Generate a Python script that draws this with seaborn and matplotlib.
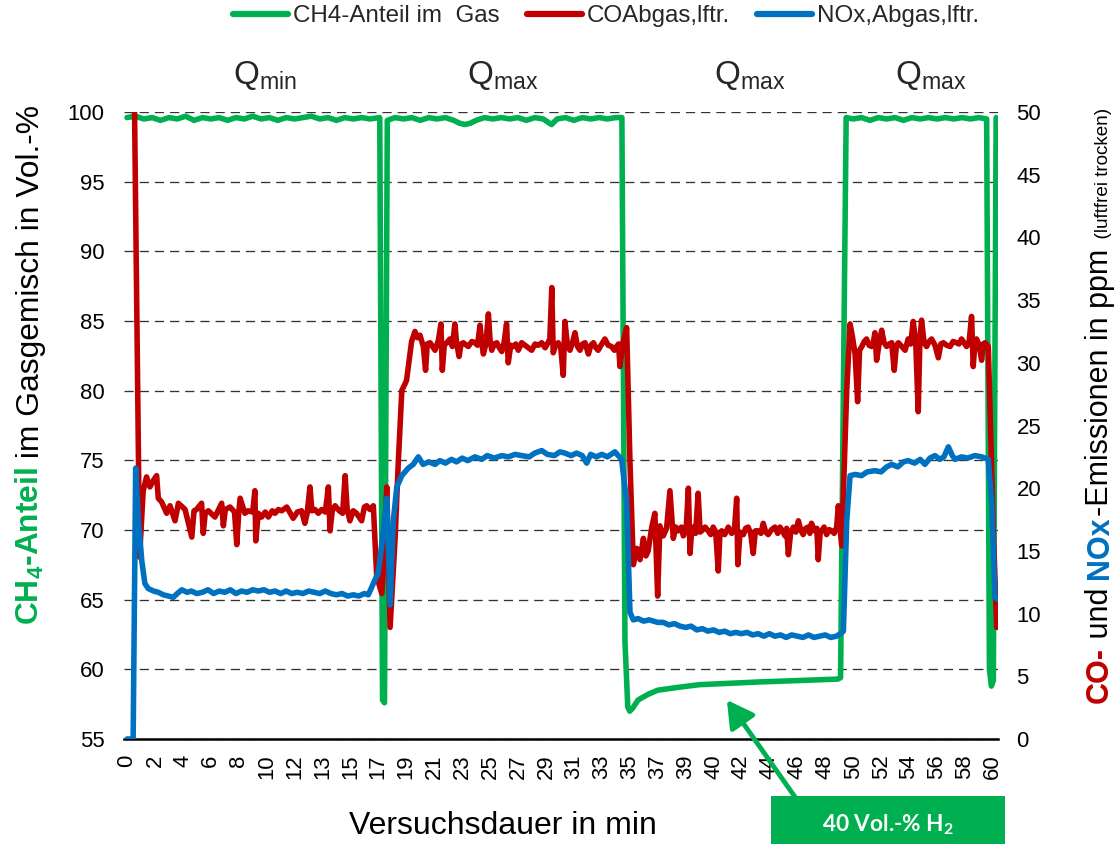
import matplotlib
matplotlib.use("Agg")
import matplotlib.pyplot as plt
import seaborn as sns
import pandas as pd
from matplotlib import font_manager
from matplotlib.lines import Line2D
from matplotlib.patches import Rectangle
from matplotlib.transforms import blended_transform_factory

# the time axis is a category axis in the original (uneven minute labels),
# so x values are positions on that axis (0 = "0", 31 = "60")
tick_labels = ["0", "2", "4", "6", "8", "10", "12", "13", "15", "17", "19", "21",
               "23", "25", "27", "29", "31", "33", "35", "37", "39", "40", "42", "44",
               "46", "48", "50", "52", "54", "56", "58", "60"]

ch4_x = [0.00, 0.30, 0.60, 0.90, 1.20, 1.50, 1.80, 2.10, 2.40, 2.70, 3.00, 3.30, 3.60,
         3.90, 4.20, 4.50, 4.80, 5.10, 5.40, 5.70, 6.00, 6.30, 6.60, 6.90, 7.20, 7.50,
         7.80, 8.10, 8.40, 8.70, 9.05, 9.15, 9.22, 9.32, 9.60, 9.90, 10.20, 10.50, 10.80,
         11.10, 11.40, 11.70, 11.90, 12.10, 12.30, 12.50, 12.80, 13.10, 13.40, 13.70,
         14.00, 14.30, 14.60, 14.90, 15.20, 15.40, 15.70, 16.00, 16.30, 16.60, 16.90,
         17.20, 17.50, 17.72, 17.83, 17.93, 18.00, 18.10, 18.30, 18.65, 19.00, 19.70,
         20.50, 21.60, 22.70, 24.10, 25.45, 25.55, 25.65, 25.75, 26.00, 26.30, 26.60,
         26.90, 27.20, 27.50, 27.80, 28.10, 28.40, 28.70, 29.00, 29.30, 29.60, 29.90,
         30.20, 30.50, 30.78, 30.88, 30.95, 31.02, 31.12]
ch4_pct = [99.6, 99.7, 99.5, 99.6, 99.4, 99.6, 99.5, 99.7, 99.4, 99.6, 99.5, 99.6, 99.4,
           99.6, 99.5, 99.7, 99.5, 99.6, 99.4, 99.6, 99.5, 99.6, 99.7, 99.5, 99.6, 99.4,
           99.6, 99.5, 99.6, 99.5, 99.6, 57.8, 57.6, 99.4, 99.6, 99.5, 99.6, 99.4, 99.6,
           99.5, 99.6, 99.4, 99.2, 99.1, 99.2, 99.4, 99.6, 99.5, 99.6, 99.5,
           99.6, 99.4, 99.6, 99.5, 99.1, 99.5, 99.6, 99.4, 99.6, 99.5, 99.6,
           99.5, 99.6, 99.6, 62.0, 57.3, 57.0, 57.2, 57.8, 58.2, 58.5, 58.7,
           58.9, 59.0, 59.1, 59.2, 59.3, 59.4, 80.0, 99.6, 99.5, 99.6, 99.4,
           99.6, 99.5, 99.6, 99.4, 99.6, 99.5, 99.6, 99.5, 99.6, 99.5, 99.6,
           99.5, 99.6, 99.5, 60.0, 58.8, 59.2, 99.6]

co_x = [0.00, 0.22, 0.45, 0.58, 0.70, 0.82, 0.94, 1.06, 1.12, 1.24, 1.42, 1.54, 1.72,
        1.84, 2.08, 2.32, 2.40, 2.49, 2.67, 2.73, 2.80, 2.91, 3.15, 3.39, 3.45, 3.52,
        3.69, 3.85, 3.93, 4.00, 4.05, 4.22, 4.34, 4.50, 4.58, 4.61, 4.70, 4.82, 4.95,
        5.06, 5.20, 5.30, 5.42, 5.54, 5.72, 5.85, 5.95, 6.10, 6.25, 6.37, 6.45, 6.55,
        6.62, 6.73, 6.85, 6.97, 7.10, 7.21, 7.27, 7.35, 7.45, 7.60, 7.72, 7.81, 7.88,
        7.98, 8.10, 8.22, 8.40, 8.50, 8.58, 8.70, 8.82, 8.94, 9.12, 9.20, 9.30, 9.42,
        9.60, 9.71, 9.84, 9.95, 10.01, 10.19, 10.31, 10.40, 10.49, 10.61, 10.69, 10.75,
        10.85, 11.03, 11.15, 11.24, 11.29, 11.36, 11.45, 11.56, 11.65, 11.74, 11.80,
        11.89, 11.96, 12.04, 12.22, 12.35, 12.46, 12.55, 12.64, 12.70, 12.76, 12.85,
        12.94, 13.00, 13.06, 13.15, 13.24, 13.33, 13.42, 13.50, 13.59, 13.65, 13.74,
        13.83, 13.92, 14.01, 14.13, 14.25, 14.37, 14.49, 14.61, 14.73, 14.85, 14.97,
        15.05, 15.14, 15.21, 15.26, 15.35, 15.44, 15.53, 15.62, 15.68, 15.77, 15.86,
        15.95, 16.04, 16.13, 16.22, 16.31, 16.40, 16.52, 16.61, 16.70, 16.79, 16.87,
        17.00, 17.11, 17.23, 17.35, 17.45, 17.53, 17.60, 17.65, 17.75, 17.89, 18.01,
        18.13, 18.25, 18.37, 18.49, 18.58, 18.66, 18.79, 18.90, 19.00, 19.08, 19.20,
        19.32, 19.44, 19.56, 19.65, 19.74, 19.85, 19.92, 20.02, 20.10, 20.16, 20.22,
        20.28, 20.36, 20.45, 20.52, 20.58, 20.70, 20.81, 20.90, 20.99, 21.08, 21.17,
        21.23, 21.29, 21.40, 21.53, 21.65, 21.75, 21.83, 21.87, 21.95, 22.07, 22.15,
        22.24, 22.33, 22.42, 22.50, 22.60, 22.70, 22.78, 22.87, 22.96, 23.08, 23.20,
        23.30, 23.38, 23.47, 23.56, 23.62, 23.68, 23.76, 23.86, 23.95, 24.04, 24.12,
        24.21, 24.30, 24.39, 24.45, 24.51, 24.62, 24.70, 24.75, 24.82, 24.87, 24.96,
        25.05, 25.14, 25.23, 25.32, 25.41, 25.47, 25.53, 25.59, 25.77, 25.89, 25.98,
        26.07, 26.16, 26.23, 26.31, 26.40, 26.48, 26.57, 26.66, 26.72, 26.78, 26.84,
        26.93, 27.02, 27.11, 27.20, 27.29, 27.38, 27.47, 27.55, 27.62, 27.74, 27.86,
        27.97, 28.06, 28.15, 28.24, 28.33, 28.39, 28.45, 28.54, 28.63, 28.72, 28.81,
        28.93, 29.05, 29.14, 29.23, 29.35, 29.47, 29.58, 29.70, 29.79, 29.88, 29.97,
        30.06, 30.15, 30.24, 30.30, 30.36, 30.42, 30.51, 30.60, 30.66, 30.72, 30.84,
        31.02, 31.14]
co_ppm = [60.0, 60.0, 14.5, 19.8, 20.9, 20.1, 20.6, 21.0, 19.2, 18.9, 18.0, 18.6, 17.4,
          18.8, 18.3, 16.1, 18.2, 18.3, 18.8, 16.4, 18.0, 18.2, 17.7, 18.8, 17.0, 18.3,
          18.5, 18.1, 15.5, 18.0, 19.2, 18.0, 18.2, 18.1, 19.8, 15.8, 18.0, 17.7, 18.1,
          17.7, 18.2, 18.0, 18.3, 18.2, 18.5, 18.0, 17.6, 18.1, 18.2, 17.2, 18.0, 20.1,
          18.2, 18.3, 18.0, 18.3, 18.1, 20.1, 16.6, 18.2, 18.6, 18.2, 18.0, 21.0, 18.4,
          17.4, 18.2, 18.0, 17.4, 18.5, 18.6, 18.3, 18.6, 13.0, 11.6, 14.0, 20.1, 8.9,
          16.0, 21.9, 27.8, 28.3, 28.6, 31.7, 32.5, 32.0, 32.2, 31.3, 29.4, 31.5,
          31.6, 31.0, 31.8, 33.1, 29.4, 31.4, 31.6, 31.9, 31.3, 33.1, 31.6,
          30.5, 31.5, 31.6, 31.3, 31.7, 31.6, 31.4, 33.0, 31.6, 30.7, 31.5,
          33.9, 31.8, 31.0, 31.5, 31.6, 31.2, 30.9, 31.6, 33.1, 30.0, 31.4,
          31.3, 31.5, 31.0, 31.6, 31.4, 31.2, 31.0, 31.5, 31.4, 31.6, 31.2,
          31.5, 31.9, 36.0, 30.8, 31.4, 31.6, 31.2, 29.0, 33.3, 31.4, 31.0,
          31.6, 32.4, 31.3, 31.0, 31.5, 31.6, 30.7, 31.4, 31.6, 31.2, 31.0,
          31.5, 31.9, 31.4, 31.3, 31.0, 31.3, 31.5, 29.7, 31.5, 32.8, 22.0,
          13.9, 15.2, 14.3, 16.0, 14.6, 15.0, 16.9, 18.0, 11.4, 17.0, 16.2,
          16.8, 19.8, 16.0, 16.9, 16.6, 16.9, 16.2, 16.7, 20.0, 14.8, 16.7,
          16.9, 16.4, 19.6, 16.5, 16.6, 16.9, 16.6, 16.3, 16.9, 16.5, 13.4,
          16.4, 16.6, 16.3, 16.9, 16.4, 16.7, 19.2, 13.9, 16.5, 16.3, 16.8,
          16.9, 16.4, 14.8, 16.6, 16.6, 16.4, 17.2, 16.5, 16.3, 16.7, 16.9,
          16.4, 16.9, 16.6, 16.2, 16.8, 14.7, 16.4, 16.9, 16.5, 17.4, 16.7,
          16.3, 16.8, 16.9, 16.4, 17.2, 16.6, 16.8, 14.3, 16.5, 16.6, 16.9,
          16.3, 16.7, 16.6, 16.4, 16.9, 18.6, 16.8, 15.4, 27.8, 33.1, 32.0,
          30.7, 26.9, 31.0, 31.3, 31.7, 31.9, 31.4, 31.3, 31.6, 32.4, 30.2,
          31.5, 32.6, 31.6, 31.3, 31.5, 31.6, 29.4, 31.4, 31.6, 31.3, 31.0,
          31.9, 31.5, 33.3, 31.7, 26.1, 31.8, 33.4, 31.6, 31.3, 31.7, 31.9,
          31.4, 30.4, 31.5, 31.6, 31.4, 31.3, 31.7, 31.6, 31.5, 31.9, 31.6,
          31.3, 31.6, 33.7, 29.7, 31.6, 31.9, 31.4, 30.2, 31.5, 31.6, 31.3,
          16.6, 8.9]

nox_x = [0.00, 0.22, 0.31, 0.41, 0.53, 0.64, 0.76, 0.95, 1.12, 1.30, 1.48, 1.66, 1.80,
         1.96, 2.15, 2.30, 2.50, 2.70, 2.90, 3.10, 3.30, 3.50, 3.70, 3.90, 4.10, 4.30,
         4.50, 4.70, 4.90, 5.10, 5.30, 5.50, 5.70, 5.90, 6.10, 6.30, 6.50, 6.70, 6.90,
         7.10, 7.30, 7.50, 7.70, 7.90, 8.10, 8.30, 8.50, 8.64, 8.82, 9.00, 9.18, 9.30,
         9.42, 9.54, 9.66, 9.84, 10.07, 10.25, 10.43, 10.60, 10.80, 11.03, 11.20, 11.40,
         11.62, 11.80, 12.00, 12.20, 12.46, 12.70, 12.90, 13.15, 13.42, 13.65, 13.90,
         14.13, 14.40, 14.60, 14.85, 15.05, 15.30, 15.50, 15.68, 15.90, 16.10, 16.30,
         16.46, 16.60, 16.80, 17.00, 17.20, 17.47, 17.71, 17.89, 18.01, 18.13, 18.30,
         18.50, 18.70, 19.00, 19.20, 19.40, 19.60, 19.80, 20.00, 20.20, 20.40, 20.60,
         20.80, 21.00, 21.20, 21.40, 21.60, 21.80, 22.00, 22.20, 22.40, 22.60, 22.80,
         23.00, 23.20, 23.40, 23.60, 23.80, 24.00, 24.20, 24.40, 24.60, 24.80, 25.00,
         25.20, 25.40, 25.55, 25.65, 25.77, 25.89, 26.07, 26.30, 26.50, 26.78, 27.00,
         27.20, 27.38, 27.60, 27.80, 27.97, 28.20, 28.40, 28.57, 28.75, 28.93, 29.10,
         29.25, 29.41, 29.55, 29.65, 29.88, 30.10, 30.36, 30.60, 30.84, 30.96, 31.08,
         31.20]
nox_ppm = [0.0, 0.0, 21.6, 17.4, 14.2, 12.4, 12.0, 11.8, 11.7, 11.5, 11.4, 11.3, 11.6,
           11.9, 11.7, 11.8, 11.6, 11.7, 11.9, 11.6, 11.8, 11.7, 11.9, 11.6, 11.8, 11.7,
           11.9, 11.8, 11.9, 11.7, 11.8, 11.6, 11.8, 11.6, 11.7, 11.6, 11.8, 11.7, 11.6,
           11.8, 11.6, 11.5, 11.6, 11.4, 11.5, 11.4, 11.6, 11.5, 12.4, 13.3, 16.6, 19.2,
           10.7, 17.5, 20.1, 21.0, 21.6, 21.9, 22.5, 21.9, 22.1, 21.9, 22.2, 22.0,
           22.3, 22.1, 22.4, 22.2, 22.5, 22.3, 22.6, 22.4, 22.6, 22.5, 22.7,
           22.6, 22.5, 22.8, 23.0, 22.7, 22.6, 22.9, 22.8, 22.6, 22.8, 22.6,
           22.0, 22.7, 22.5, 22.7, 22.5, 22.9, 22.3, 18.9, 10.1, 9.5, 9.6,
           9.4, 9.5, 9.3, 9.3, 9.1, 9.2, 9.0, 8.9, 9.0, 8.7, 8.8,
           8.6, 8.7, 8.5, 8.6, 8.4, 8.5, 8.4, 8.5, 8.3, 8.4, 8.2,
           8.4, 8.2, 8.3, 8.1, 8.3, 8.2, 8.1, 8.3, 8.1, 8.2, 8.3,
           8.1, 8.2, 8.4, 8.6, 17.4, 21.0, 21.1, 21.0, 21.3, 21.4, 21.3,
           21.7, 21.9, 21.7, 22.1, 22.2, 22.0, 22.3, 21.9, 22.4, 22.6, 22.3,
           22.5, 23.3, 22.6, 22.3, 22.5, 22.4, 22.6, 22.5, 22.3, 18.9, 11.3,
           11.1]

series_labels = ["CH4-Anteil im  Gas", "COAbgas,lftr.", "NOx,Abgas,lftr."]
phase_names = ["min", "max", "max", "max"]
phase_x = [4.94, 13.46, 22.31, 28.79]

GREEN = "#00B050"
RED = "#C00000"
BLUE = "#0070C0"
W, H = 1118, 844

sns.set_style("white")
installed = {f.name for f in font_manager.fontManager.ttflist}
NARROW = "Liberation Sans Narrow" if "Liberation Sans Narrow" in installed else "Liberation Sans"
BOXFONT = "Lato" if "Lato" in installed else "Open Sans"
plt.rcParams["font.family"] = ["Liberation Sans", "DejaVu Sans"]

fig = plt.figure(figsize=(W / 100, H / 100), dpi=100)
renderer = fig.canvas.get_renderer()


def text_width(s, size, **kw):
    t = fig.text(0, 0, s, fontsize=size, **kw)
    w = t.get_window_extent(renderer).width
    t.remove()
    return w


def fit(s, target_px, base=20, **kw):
    return base * target_px / text_width(s, base, **kw)


def stacked_label(pieces, x_px, y_px, length_px):
    # rotated label made of differently styled pieces, read bottom to top
    def place(size, keep):
        y = y_px
        made = []
        for s, weight, color, rel in pieces:
            t = fig.text(x_px / W, y / H, s, rotation=90, rotation_mode="anchor",
                         ha="left", va="baseline", fontsize=size * rel,
                         fontweight=weight, color=color, family=[NARROW, "DejaVu Sans"])
            y += t.get_window_extent(renderer).height
            made.append(t)
        if not keep:
            for t in made:
                t.remove()
        return y - y_px

    total = place(20, False)
    place(20 * length_px / total, True)


ax = fig.add_axes([0.1111, 0.1244, 0.7819, 0.7429])
sns.lineplot(x=ch4_x, y=ch4_pct, ax=ax, color=GREEN, lw=4.0, sort=False, estimator=None)
ax2 = ax.twinx()
sns.lineplot(x=co_x, y=co_ppm, ax=ax2, color=RED, lw=4.0, sort=False, estimator=None)
sns.lineplot(x=nox_x, y=nox_ppm, ax=ax2, color=BLUE, lw=4.0, sort=False, estimator=None)

ax.set_xlim(-0.1, 31.2)
ax.set_ylim(55, 100)
ax2.set_ylim(0, 50)

tick_size = fit("100", 37)
ax.set_xticks(range(len(tick_labels)))
ax.set_xticklabels(tick_labels, rotation=90, fontsize=tick_size)
ax.set_yticks(range(55, 101, 5))
ax.set_yticklabels([str(v) for v in range(55, 101, 5)], fontsize=tick_size)
ax2.set_yticks(range(0, 51, 5))
ax2.set_yticklabels([str(v) for v in range(0, 51, 5)], fontsize=tick_size)
ax.tick_params(axis="x", length=0, pad=11, colors="black")
ax.tick_params(axis="y", length=0, pad=14, colors="black")
ax2.tick_params(axis="y", length=0, pad=13, colors="black")
ax.set_xlabel("")
ax.set_ylabel("")
ax2.set_ylabel("")

for a in (ax, ax2):
    for side in ("left", "right", "top", "bottom"):
        a.spines[side].set_visible(False)
ax.spines["bottom"].set_visible(True)
ax.spines["bottom"].set_color("black")
ax.spines["bottom"].set_linewidth(1.8)
ax.yaxis.grid(True, linestyle=(0, (7, 4.5)), color="#333333", lw=0.95)
ax.xaxis.grid(False)
ax.set_axisbelow(True)

# legend on top
leg_size = fit(series_labels[0], 206, family=[NARROW, "DejaVu Sans"])
leg_px = leg_size * 100 / 72
handles = [Line2D([], [], color=c, lw=4.5, solid_capstyle="round") for c in (GREEN, RED, BLUE)]
fig.legend(handles, series_labels, loc="center left", bbox_to_anchor=(233 / W, 1 - 16 / H),
           ncol=3, frameon=False, borderpad=0, borderaxespad=0,
           prop={"family": [NARROW, "DejaVu Sans"], "size": leg_size},
           handlelength=55 / leg_px, handletextpad=5 / leg_px, columnspacing=27 / leg_px)

# operating point labels above the plot
q_size = fit(r"$\mathregular{Q_{max}}$", 72, family=[NARROW, "DejaVu Sans"])
q_trans = blended_transform_factory(ax.transData, fig.transFigure)
for xq, name in zip(phase_x, phase_names):
    ax.text(xq, 1 - 84 / H, r"$\mathregular{Q_{%s}}$" % name, transform=q_trans,
            ha="center", va="baseline", fontsize=q_size, family=[NARROW, "DejaVu Sans"])

stacked_label([(r"CH$_\mathregular{4}$-Anteil", "bold", GREEN, 1.0),
               (" im Gasgemisch in Vol.-%", "normal", "black", 1.0)],
              39, H - 625, 520)
stacked_label([("CO-", "bold", RED, 1.0),
               (" und ", "normal", "black", 1.0),
               ("NOx", "bold", BLUE, 1.0),
               ("-Emissionen in ppm", "normal", "black", 1.0),
               ("  (luftfrei trocken)", "normal", "black", 0.62)],
              1108, H - 703, 597)

title_size = fit("Versuchsdauer in min", 307)
fig.text(503 / W, 1 - 826 / H, "Versuchsdauer in min", ha="center", va="center",
         fontsize=title_size, color="black")

# green note box with arrow
fig.patches.append(Rectangle((771 / W, 0), 234 / W, 48 / H, transform=fig.transFigure,
                             facecolor=GREEN, edgecolor="none"))
box_size = fit("40 Vol.-% H2", 135, family=[BOXFONT, "DejaVu Sans"], fontweight="bold")
fig.text(888 / W, 1 - 825 / H, r"40 Vol.-% H$_\mathregular{2}$", ha="center", va="center",
         color="white", fontweight="bold", fontsize=box_size, family=[BOXFONT, "DejaVu Sans"])
ax.annotate("", xy=(21.48, 57.8), xycoords="data", xytext=(795 / W, 1 - 797 / H),
            textcoords="figure fraction", annotation_clip=False,
            arrowprops=dict(arrowstyle="-|>,head_length=0.8,head_width=0.45", color=GREEN,
                            lw=3.5, shrinkA=0, shrinkB=0, mutation_scale=20))

fig.savefig("out.png", dpi=100)
